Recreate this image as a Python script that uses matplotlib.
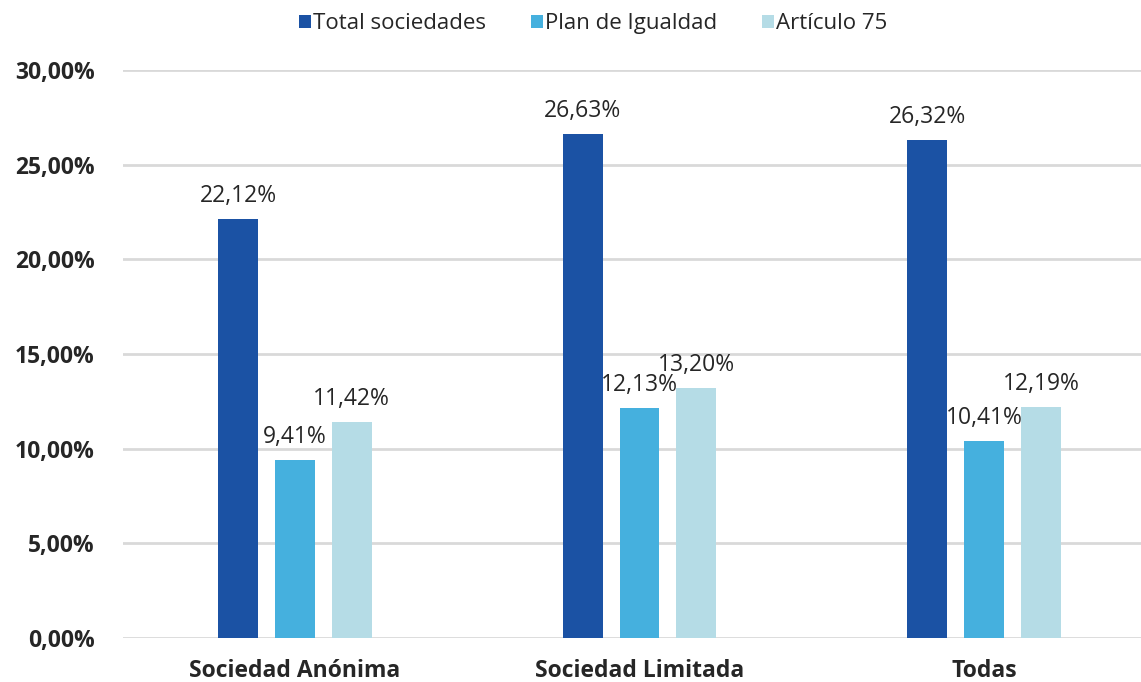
import matplotlib
matplotlib.use("Agg")
import matplotlib.pyplot as plt
import numpy as np

categories = ["Sociedad Anónima", "Sociedad Limitada", "Todas"]
series_names = ["Total sociedades", "Plan de Igualdad", "Artículo 75"]
total = [22.12, 26.63, 26.32]
plan = [9.41, 12.13, 10.41]
art75 = [11.42, 13.20, 12.19]
colors = ["#1B52A4", "#45B0DE", "#B5DCE6"]

plt.rcParams['font.family'] = ['Open Sans', 'DejaVu Sans']

fig = plt.figure(figsize=(11.41, 6.82), dpi=100)
ax = fig.add_axes([122.5 / 1141, 44 / 682, 1034 / 1141, 568 / 682])

x = np.arange(len(categories))
width = 0.116
step = 0.165
values = [total, plan, art75]
for i, (vals, name, col) in enumerate(zip(values, series_names, colors)):
    pos = x + (i - 1) * step
    ax.bar(pos, np.array(vals) / 100, width=width, color=col, label=name, zorder=3)
    for px, v in zip(pos, vals):
        ax.annotate(f"{v:.2f}%".replace(".", ","), (px, v / 100),
                    xytext=(0, 8), textcoords="offset points",
                    ha="center", va="bottom", fontsize=16.5, color="#262626",
                    annotation_clip=False, zorder=4)

ax.set_xlim(-0.5, 2.5)
ax.set_ylim(0, 0.30)
yt = np.arange(0, 0.301, 0.05)
ax.set_yticks(yt)
ax.set_yticklabels([f"{v*100:.2f}%".replace(".", ",") for v in yt],
                   fontsize=16.5, fontweight="bold", color="#262626")
ax.set_xticks(x)
ax.set_xticklabels(categories, fontsize=16.5, fontweight="bold", color="#262626")
ax.tick_params(axis="both", length=0)
ax.tick_params(axis="y", pad=20)
ax.tick_params(axis="x", pad=15)
ax.yaxis.grid(True, color="#D9D9D9", linewidth=2, zorder=0)
for s in ax.spines.values():
    s.set_visible(False)

leg = fig.legend(loc="upper center", bbox_to_anchor=(0.52, 1.01), ncol=3,
                 frameon=False, fontsize=16, handlelength=0.55, handleheight=0.55,
                 handletextpad=0.1, columnspacing=2.0)
for t in leg.get_texts():
    t.set_color("#262626")

fig.savefig("out.png", dpi=100)
